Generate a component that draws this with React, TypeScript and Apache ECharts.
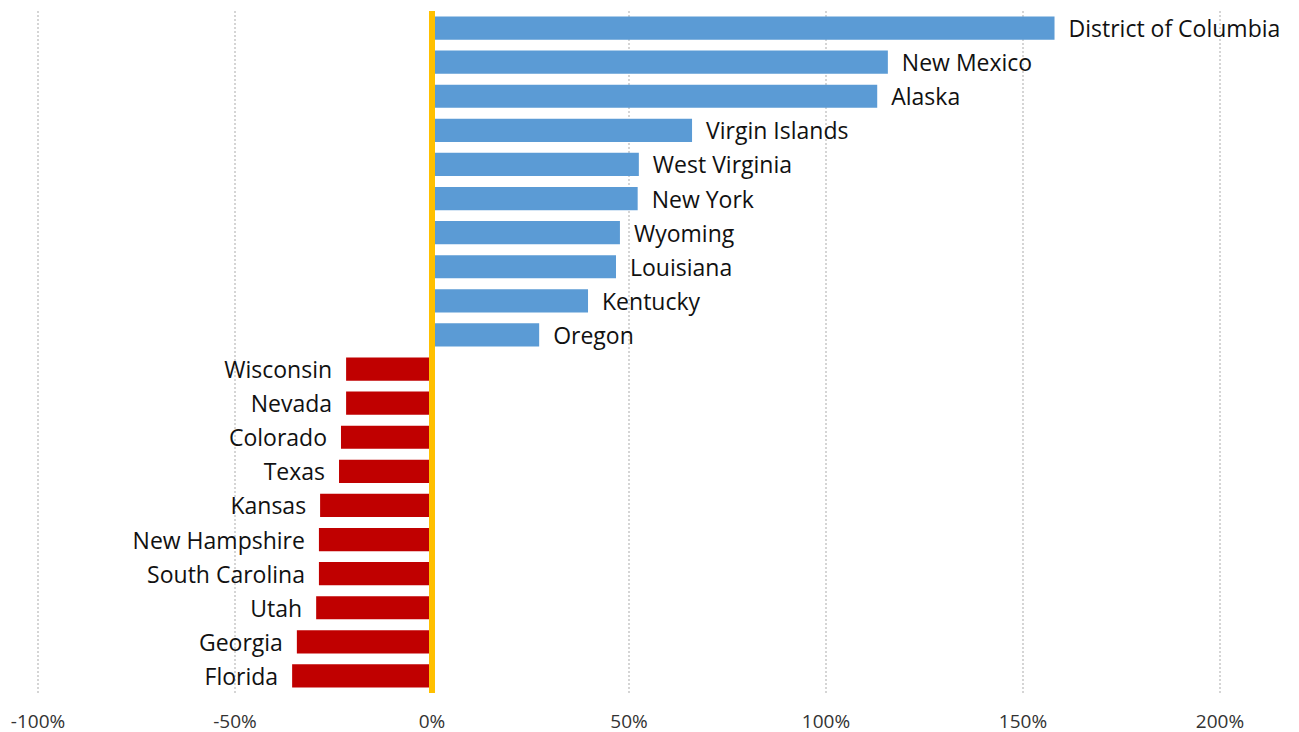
import React, { useEffect, useRef } from "react";
import * as echarts from "echarts";

const states = [
  "District of Columbia", "New Mexico", "Alaska", "Virgin Islands", "West Virginia",
  "New York", "Wyoming", "Louisiana", "Kentucky", "Oregon",
  "Wisconsin", "Nevada", "Colorado", "Texas", "Kansas",
  "New Hampshire", "South Carolina", "Utah", "Georgia", "Florida",
];
const changes = [
  1.58, 1.157, 1.13, 0.66, 0.525,
  0.522, 0.477, 0.467, 0.396, 0.272,
  -0.218, -0.218, -0.231, -0.236, -0.284,
  -0.287, -0.287, -0.294, -0.343, -0.355,
];
const xTicks = { min: -1, max: 2, interval: 0.5 };

export default function App() {
  const ref = useRef<HTMLDivElement>(null);
  useEffect(() => {
    if (!ref.current) return;
    const chart = echarts.init(ref.current, null, { renderer: "svg" });
    const font = "'Open Sans', Lato, sans-serif";
    chart.setOption({
      animation: false,
      grid: { left: 38, right: 79, top: 11, bottom: 39, containLabel: false },
      xAxis: {
        type: "value",
        min: xTicks.min,
        max: xTicks.max,
        interval: xTicks.interval,
        axisLine: { show: false },
        axisTick: { show: false },
        splitLine: { show: true, lineStyle: { color: "#c8c8c8", width: 1.5, type: [2, 2] } },
        axisLabel: {
          formatter: (v: number) => `${Math.round(v * 100)}%`,
          fontSize: 19,
          color: "#333333",
          fontFamily: font,
          margin: 18,
        },
      },
      yAxis: {
        type: "category",
        data: states,
        inverse: true,
        axisLine: { show: false },
        axisTick: { show: false },
        axisLabel: { show: false },
        splitLine: { show: false },
      },
      series: [
        {
          type: "bar",
          barCategoryGap: "32%",
          data: changes.map((v) => ({
            value: v,
            itemStyle: { color: v >= 0 ? "#5B9BD5" : "#C00000" },
            label: { position: v >= 0 ? "right" : "left" },
          })),
          label: {
            show: true,
            formatter: (p: any) => p.name,
            fontSize: 23,
            color: "#111111",
            fontFamily: font,
            distance: 14,
          },
          markLine: {
            silent: true,
            symbol: "none",
            z: 10,
            label: { show: false },
            lineStyle: { color: "#FFC000", width: 6, type: "solid" },
            data: [{ xAxis: 0 }],
          },
        },
      ],
    });
    return () => chart.dispose();
  }, []);
  return (
    <div
      ref={ref}
      style={{ position: "fixed", left: 0, top: 0, width: 1299, height: 732, background: "#fff" }}
    />
  );
}
